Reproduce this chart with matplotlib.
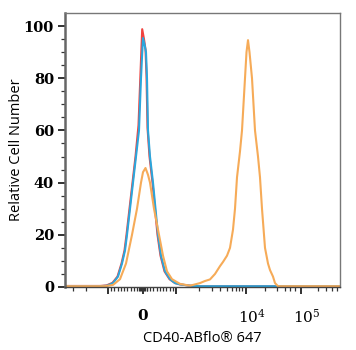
import numpy as np
import matplotlib
matplotlib.use("Agg")
import matplotlib.pyplot as plt
from matplotlib.ticker import FixedLocator, NullFormatter
from matplotlib.transforms import ScaledTranslation

# ---- data (x in display-channel units along the biexponential axis, 0..275) ----
blue_x = [0, 35, 42, 48, 53, 57, 60, 62, 65, 68, 71, 74, 76, 77, 78, 79.5, 81, 82, 83,
          85, 88, 91, 93, 96, 100, 105, 110, 115, 125, 135, 275]
blue_y = [0.3, 0.3, 0.5, 1.5, 4, 9, 14, 20, 30, 40, 50, 60, 80, 88, 95.4, 93, 90, 80, 60,
          50, 40, 28, 20, 12, 6, 3, 1.5, 1.0, 0.5, 0.3, 0.3]

red_x = [0, 35, 41.5, 47.5, 52.5, 56.5, 59.5, 61.5, 64.5, 67.5, 70.5, 73.5, 75.5, 76.5, 77.2,
         79, 80.5, 81.5, 82.5, 84.5, 87.5, 90.5, 92.5, 95.5, 99.5, 104.5, 110, 115, 125, 135, 275]
red_y = [0.4, 0.4, 0.6, 1.6, 4, 9, 14, 20, 30, 40, 50, 62, 82, 92, 98.8, 95, 91, 81, 61,
         50, 40, 28, 20, 12, 6, 3, 1.5, 1.0, 0.5, 0.3, 0.3]

orange_x = [0, 40, 48, 55, 61, 67, 72, 76, 78, 80.5, 83, 85, 89, 94, 98, 102, 107, 115,
            125, 135, 140, 145, 150, 155, 158, 162, 165, 168, 170, 172, 175, 177, 180,
            181.5, 183, 184.5, 187, 190, 193, 195, 197, 200, 203, 205, 208, 210, 213, 275]
orange_y = [0.3, 0.3, 0.8, 3, 9, 20, 30, 40, 44, 45.6, 43, 40, 30, 20, 12, 6, 3, 1.2,
            0.5, 1.5, 2.3, 2.9, 5, 8, 9.6, 12, 15, 22, 30, 42, 52, 60, 80,
            90, 94.6, 90, 80, 60, 50, 42, 30, 15, 9, 6.5, 4, 1.5, 0.3, 0.3]

y_ticks = [0, 20, 40, 60, 80, 100]
x_major = [43, 78, 111, 181, 236]
x_major_labels = ["", r"$\mathbf{0}$", "", r"$10^4$", r"$10^5$"]
x_minor = ([8, 21] + list(np.linspace(43, 111, 22)[1:-1]) + [74, 76, 80, 82]
           + [134, 147, 155, 162, 167, 171, 174, 177]
           + [200, 212, 220, 225, 230]
           + [253, 261, 267, 272])
x_label = "CD40-ABflo\u00ae 647"
y_label = "Relative Cell Number"

# ---- figure ----
plt.rcParams['mathtext.fontset'] = 'dejavuserif'
fig = plt.figure(figsize=(3.56, 3.5), dpi=100)
ax = fig.add_axes([65 / 356, 63 / 350, 275 / 356, 274 / 350])

lw = 1.5
ax.plot(red_x, red_y, color="#f0433f", lw=lw, solid_joinstyle="round")
ax.plot(blue_x, blue_y, color="#2ba6dc", lw=lw, solid_joinstyle="round")
ax.plot(orange_x, orange_y, color="#f6ab58", lw=lw, solid_joinstyle="round")

ax.set_xlim(0, 275)
ax.set_ylim(0, 105)

ax.yaxis.set_major_locator(FixedLocator(y_ticks))
ax.yaxis.set_minor_locator(FixedLocator([v for v in range(0, 105, 5) if v % 20]))
ax.set_yticklabels([str(v) for v in y_ticks], family="DejaVu Serif", fontweight="bold", fontsize=10.5)

ax.xaxis.set_major_locator(FixedLocator(x_major))
ax.xaxis.set_minor_locator(FixedLocator(x_minor))
ax.set_xticklabels(x_major_labels, fontsize=11)
ax.xaxis.set_minor_formatter(NullFormatter())

ax.tick_params(axis="both", which="major", direction="out", length=5, width=1.3, color="#222222")
ax.tick_params(axis="both", which="minor", direction="out", length=3, width=0.9, color="#333333")
ax.tick_params(axis="x", which="major", pad=10)
ax.tick_params(axis="y", which="major", pad=3)

# shift the power-of-ten labels slightly right, like the reference
for lab in ax.get_xticklabels()[3:]:
    lab.set_transform(lab.get_transform() + ScaledTranslation(6 / 100, 0, fig.dpi_scale_trans))

for s in ["top", "right"]:
    ax.spines[s].set_color("#777777")
    ax.spines[s].set_linewidth(1.0)
ax.spines["left"].set_color("#666666")
ax.spines["left"].set_linewidth(1.8)
ax.spines["bottom"].set_color("#444444")
ax.spines["bottom"].set_linewidth(1.0)

ax.set_ylabel(y_label, family="Open Sans", fontsize=10.5, labelpad=0)
ax.set_xlabel(x_label, family="Open Sans", fontsize=10.5, labelpad=4)

fig.savefig("out.png", dpi=100)
